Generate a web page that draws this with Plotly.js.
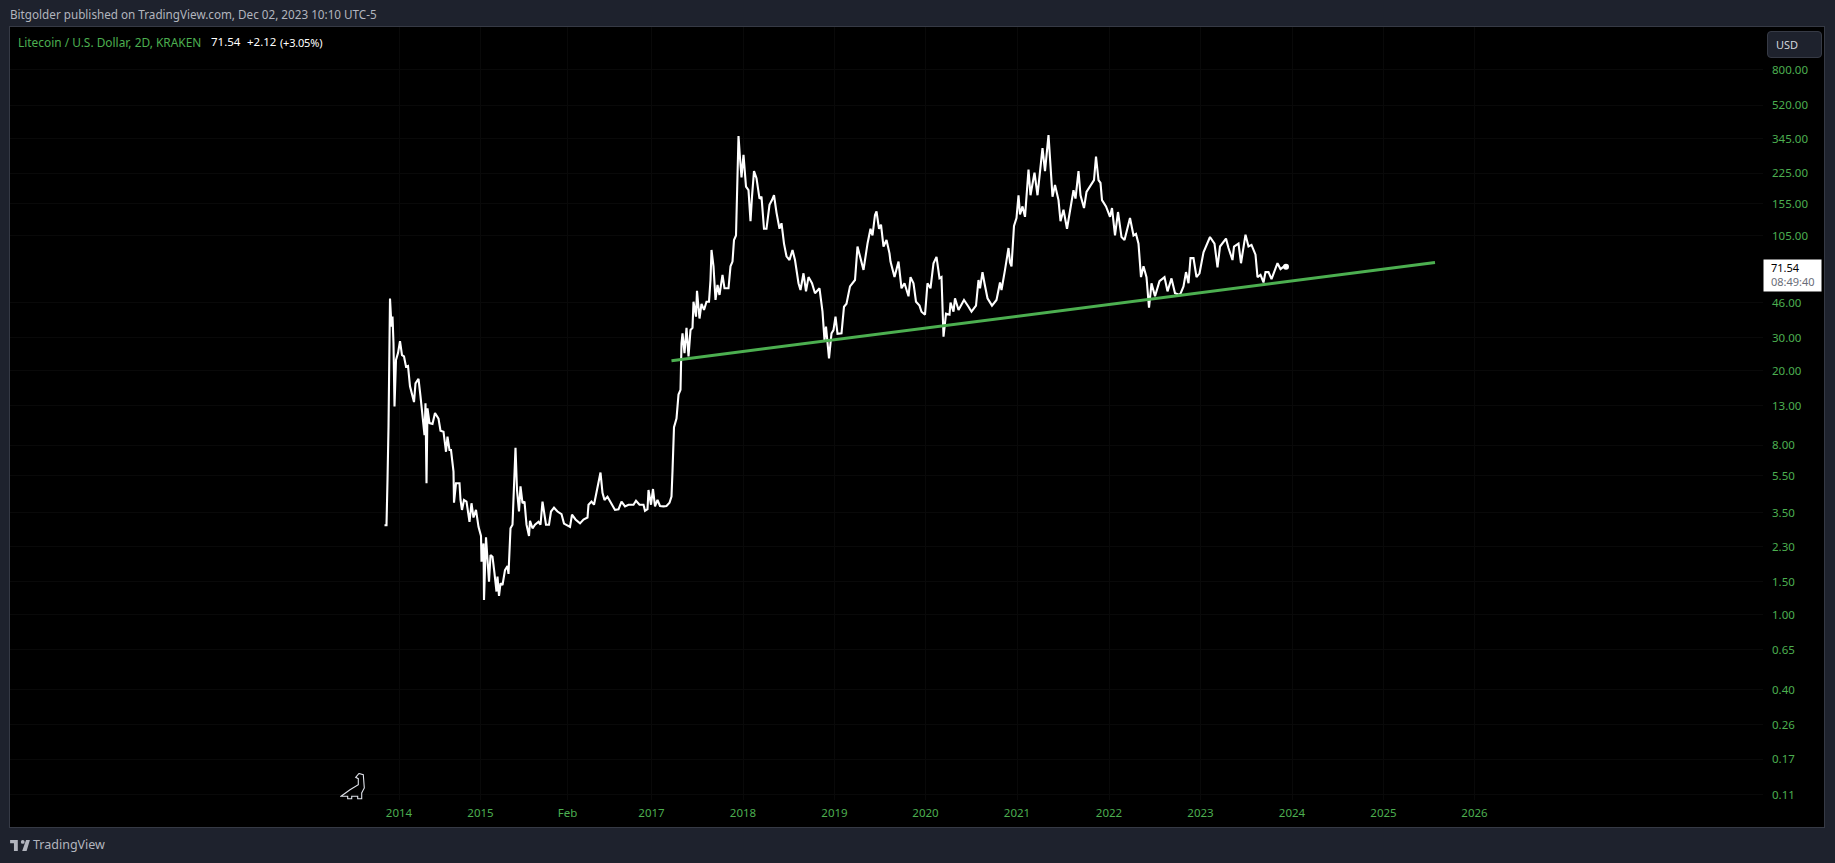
<!DOCTYPE html>
<html>
<head>
<meta charset="utf-8">
<script src="https://cdn.plot.ly/plotly-3.0.1.min.js"></script>
<style>
    html, body { margin: 0; width: 1835px; height: 863px; background: #1e222d; overflow: hidden; font-family: "Noto Sans", sans-serif; }
    .abs { position: absolute; white-space: pre; }
    #chart { position: absolute; left: 10px; top: 27px; width: 1814px; height: 800px; }
    #frame { position: absolute; left: 9px; top: 26px; width: 1814px; height: 800px; border: 1px solid #363a45; pointer-events: none; }
    #usd { left: 1767px; top: 31px; width: 53px; height: 25px; line-height: 25px; background: #1e222d; border: 1px solid #363a45; border-radius: 4px; color: #d1d4dc; font-size: 11px; text-indent: 8px; }
</style>
</head>
<body>
<div class="abs" style="left:10px;top:6px;font-size:11.7px;color:#b2b5be">Bitgolder published on TradingView.com, Dec 02, 2023 10:10 UTC-5</div>
<div id="chart"></div>
<div id="frame"></div>
<div class="abs" style="left:18px;top:34px;font-size:11.9px;color:#4caf50">Litecoin / U.S. Dollar, 2D, KRAKEN</div>
<div class="abs" style="left:211px;top:34px;font-size:11.5px;color:#fff">71.54</div>
<div class="abs" style="left:247px;top:34px;font-size:11.5px;color:#fff">+2.12</div>
<div class="abs" style="left:280px;top:35px;font-size:11px;letter-spacing:-0.2px;color:#fff">(+3.05%)</div>
<div class="abs" id="usd">USD</div>
<svg class="abs" style="left:340px;top:773px" width="26" height="27" viewBox="0 0 26 27">
    <path d="M1 23.3L10 16.7L18.3 11.7L18.3 5.700L15.700 4.300L19 0.500L23.300 1.700L24.300 15L21.700 20L21.700 25.700L17.700 25.700L17.700 23.300L11.700 23.300L11.700 25.700L7.700 25.700L7.700 23.300Z" fill="none" stroke="#e0e3eb" stroke-width="1.1"/>
</svg>
<svg class="abs" style="left:10px;top:840px" width="20" height="11" viewBox="0 0 36 20">
    <path d="M14 0H0v6h7v14h7V0Zm16 20h-8l7-20h7l-6 20Zm-7-13a3.500 3.500 0 1 0 0-7 3.500 3.500 0 0 0 0 7Z" fill="#b2b5be"/>
</svg>
<div class="abs" style="left:33px;top:836px;font-size:12.5px;color:#b2b5be">TradingView</div>
<script>
// bar number on the time scale, 2D bars
const bars = [
    -3, 1, 3, 5, 8, 11, 13, 15, 17, 20, 24, 28, 32, 36, 40, 44, 48, 52, 56, 59,
    65, 69, 73, 77, 79, 81, 83, 87, 93, 98, 105, 109, 115, 120, 123, 127, 130, 135, 136, 140,
    147, 149, 152, 156, 161, 167, 171, 175, 180, 185, 190, 191, 195, 196, 200, 203, 206, 209, 213, 217,
    221, 223, 226, 229, 233, 238, 243, 245, 249, 253, 255, 259, 262, 266, 269, 273, 277, 281, 286, 288,
    293, 298, 305, 309, 313, 316, 320, 326, 330, 336, 343, 351, 356, 368, 372, 379, 388, 395, 403, 405,
    411, 416, 421, 429, 433, 437, 443, 449, 458, 465, 471, 478, 485, 495, 500, 507, 515, 518, 523, 525,
    530, 534, 538, 543, 548, 555, 561, 567, 571, 573, 576, 581, 585, 589, 591,
    593, 597, 601, 605, 609, 613, 615, 620, 622, 627, 631, 636, 641, 646, 649, 651, 655, 659, 663, 667,
    673, 677, 685, 689, 693, 696, 700, 703, 705, 708, 711, 715, 720, 725, 729, 732, 736, 741, 747, 751,
    756, 761, 767, 772, 776, 781, 787, 791, 796, 801, 807, 813, 818, 825, 829, 835, 840, 845, 852, 858,
    867, 873, 877, 880, 886, 891, 895, 899, 903, 911, 916, 921, 928, 938, 943, 948, 955, 963, 969, 973,
    978, 981, 986, 990, 995, 1001, 1007, 1009, 1017, 1025, 1031, 1037, 1045, 1049, 1055, 1060, 1067, 1071, 1078, 1083,
    1089, 1095, 1101, 1107, 1111, 1115, 1120, 1127, 1129, 1135, 1138, 1145, 1156, 1165, 1171, 1180, 1185,
    1188, 1193, 1197, 1203, 1212, 1221, 1228, 1231, 1238, 1245, 1248, 1251, 1256, 1261, 1265, 1268, 1273, 1278, 1285, 1289,
    1297, 1303, 1313, 1318, 1325, 1330, 1333, 1338, 1345, 1349, 1355, 1362, 1368, 1375, 1379, 1385, 1389, 1396, 1401, 1411,
    1416, 1420, 1425, 1429, 1432, 1440, 1448, 1452, 1458, 1464, 1471, 1477, 1488, 1495, 1500, 1505, 1510, 1515, 1521, 1526,
    1531, 1538, 1547, 1557, 1563, 1571, 1578, 1588, 1595, 1600, 1605, 1609, 1615, 1621, 1627, 1635, 1648, 1657, 1663, 1668,
    1680, 1685, 1693, 1696, 1705, 1710, 1719, 1725, 1731, 1739, 1743, 1749, 1755, 1759, 1765, 1771, 1778, 1783, 1789, 1796, 1800
]
const closes = [
    3.00, 3.00, 5.23, 10.0, 48.4, 34.3, 38.8, 27.9, 12.9, 22.8, 24.8, 28.7, 24.2, 23.8, 21.0, 21.2, 16.5, 15.2, 13.6, 17.1,
    18.1, 14.6, 11.7, 9.07, 13.4, 5.02, 12.6, 10.5, 10.4, 11.9, 11.1, 9.57, 9.45, 7.39, 8.90, 7.55, 7.55, 5.80, 3.96, 5.02,
    5.02, 4.09, 3.62, 4.09, 4.01, 3.13, 3.93, 3.30, 3.62, 2.94, 2.63, 1.92, 2.40, 1.20, 2.59, 1.88, 1.50, 2.08, 2.04, 1.66,
    1.33, 1.60, 1.26, 1.47, 1.44, 1.73, 1.82, 1.65, 2.89, 3.02, 3.93, 7.77, 4.62, 3.55, 4.83, 3.93, 4.01, 3.02, 2.63, 3.17,
    2.89, 3.02, 3.13, 3.02, 4.01, 3.44, 3.02, 3.02, 3.55, 3.72, 3.55, 3.44, 3.06, 2.94, 3.42, 3.22, 3.07, 3.22, 3.30, 3.86,
    4.01, 3.86, 4.47, 5.73, 4.47, 4.09, 4.26, 4.01, 3.62, 3.65, 4.01, 3.78, 3.86, 3.86, 4.05, 3.86, 3.86, 3.58, 3.65, 4.62,
    3.86, 4.68, 3.78, 4.09, 3.80, 3.78, 3.80, 3.95, 4.26, 5.83, 10.0, 11.1, 14.9, 15.8, 27.9,
    31.6, 24.8, 33.8, 23.8, 32.9, 33.8, 46.6, 38.8, 53.3, 37.9, 45.4, 42.1, 46.6, 46.6, 60.8, 87.9, 71.9, 47.6, 57.2, 50.6,
    64.8, 54.9, 54.9, 71.9, 76.2, 99.3, 105, 288, 356, 271, 214, 282, 191, 183, 125, 169, 231, 212, 165, 169,
    114, 114, 153, 162, 172, 139, 114, 122, 95.0, 81.3, 77.7, 87.9, 77.7, 58.4, 53.8, 66.0, 52.9, 63.0, 58.4, 51.7,
    54.9, 41.2, 29.1, 34.3, 23.2, 31.6, 32.9, 38.8, 31.4, 31.6, 43.8, 45.4, 56.2, 60.8, 91.7, 81.3, 68.8, 95.0, 114, 105,
    135, 141, 114, 120, 91.7, 99.3, 84.3, 76.2, 63.0, 76.2, 54.9, 58.4, 49.8, 63.0, 58.4, 46.6, 44.4, 41.2, 39.7, 58.4,
    54.9, 74.7, 80.7, 62.1, 63.0, 30.3, 40.2, 39.7, 46.1, 41.2, 48.6, 42.1, 47.6, 43.8, 41.2, 44.4, 60.8,
    54.9, 67.0, 58.4, 48.6, 44.4, 47.6, 59.0, 53.8, 68.8, 90.0, 75.3, 71.9, 118, 130, 172, 136, 150, 132, 236, 172,
    227, 172, 307, 231, 360, 212, 169, 195, 162, 125, 144, 114, 144, 183, 165, 231, 172, 147, 179, 196,
    207, 276, 207, 200, 162, 150, 132, 147, 105, 140, 103, 99.3, 130, 105, 107, 95.0, 63.0, 71.9, 63.0, 43.3,
    58.4, 49.8, 59.9, 63.0, 52.9, 62.0, 51.7, 50.6, 56.2, 67.0, 58.4, 79.5, 79.5, 63.0, 66.0, 85.4, 103, 95.0, 71.0, 91.7,
    101, 90.0, 77.7, 91.7, 95.0, 74.7, 106, 91.7, 93.5, 83.0, 63.0, 64.8, 59.0, 67.0, 67.0, 61.5, 68.8, 74.7, 69.5, 71.9, 71.54
]

const trendBars = [571, 2098]
const trendPrices = [22.6, 75.3]

const yearBars = [26, 189, 363, 531, 714, 897, 1079, 1262, 1446, 1629, 1812, 1995, 2177]
const yearLabels = ["2014", "2015", "Feb", "2017", "2018", "2019", "2020", "2021", "2022", "2023", "2024", "2025", "2026"]
const priceTicks = [800, 520, 345, 225, 155, 105, 46, 30, 20, 13, 8, 5.5, 3.5, 2.3, 1.5, 1, 0.65, 0.4, 0.26, 0.17, 0.11]

const green = "#4caf50"
const lastBar = bars[bars.length - 1]
const lastClose = closes[closes.length - 1]

const traces = [
    {
        x: bars,
        y: closes,
        type: "scatter",
        mode: "lines",
        line: { color: "#ffffff", width: 2.1 },
        hoverinfo: "skip",
    },
    {
        x: [lastBar],
        y: [lastClose],
        type: "scatter",
        mode: "markers",
        marker: { color: "#ffffff", size: 6 },
        hoverinfo: "skip",
    },
    {
        x: trendBars,
        y: trendPrices,
        type: "scatter",
        mode: "lines",
        line: { color: green, width: 3 },
        hoverinfo: "skip",
    },
]

const layout = {
    width: 1814,
    height: 800,
    showlegend: false,
    paper_bgcolor: "#000000",
    plot_bgcolor: "#000000",
    font: { family: "Noto Sans, sans-serif", size: 11.5, color: green },
    margin: { l: 0, r: 61, t: 0, b: 27, pad: 0 },
    xaxis: {
        range: [-752, 2754],
        tickmode: "array",
        tickvals: yearBars,
        ticktext: yearLabels,
        tickangle: 0,
        ticks: "",
        showline: false,
        zeroline: false,
        gridcolor: "#090909",
        tickfont: { color: green },
        ticklabelstandoff: 4,
    },
    yaxis: {
        type: "log",
        side: "right",
        range: [-0.9869, 3.132],
        tickmode: "array",
        tickvals: priceTicks,
        ticktext: priceTicks.map(p => p.toFixed(2)),
        ticks: "",
        showline: false,
        zeroline: false,
        gridcolor: "#090909",
        tickfont: { color: green },
        ticklabelstandoff: 8,
    },
    annotations: [
        // last price tag on the price scale: white box first, text on top
        {
            xref: "paper",
            x: 1,
            xanchor: "left",
            yref: "y",
            y: Math.log10(lastClose),
            yanchor: "top",
            yshift: 8,
            width: 57,
            height: 31,
            bgcolor: "#ffffff",
            borderpad: 0,
            showarrow: false,
            text: "&nbsp;",
        },
        {
            xref: "paper",
            x: 1,
            xanchor: "left",
            xshift: 7,
            yref: "y",
            y: Math.log10(lastClose),
            yanchor: "top",
            yshift: 8,
            align: "left",
            borderpad: 0,
            showarrow: false,
            font: { color: "#000000", size: 11 },
            text: `${lastClose}<br><span style="color:#6a6d78">08:49:40</span>`,
        },
    ],
}

Plotly.newPlot("chart", traces, layout, { displayModeBar: false, staticPlot: true })
</script>
</body>
</html>
